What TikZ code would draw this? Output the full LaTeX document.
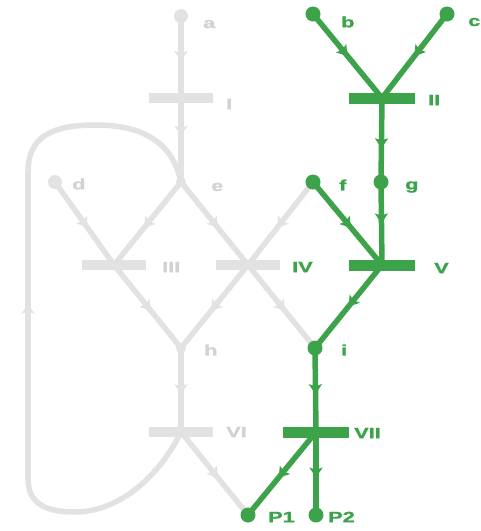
\documentclass[tikz,border=0pt]{standalone}
\usepackage{fontspec}
\setmainfont{Liberation Sans}
\newfontfamily\heavyfont{Liberation Sans}[BoldFeatures={FakeBold=1.3}]
\usepackage{graphicx}
\usetikzlibrary{decorations.markings,arrows.meta}
\pgfdeclarelayer{bg}
\pgfsetlayers{bg,main}
\definecolor{pgreen}{RGB}{61,163,75}
\definecolor{pgray}{RGB}{226,226,226}
\definecolor{lgray}{RGB}{210,210,210}
\newcommand\widetxt[1]{\scalebox{1.45}[1]{#1}}
\tikzset{
  midarrow/.style={postaction={decorate},decoration={markings,mark=at position #1 with {\arrow{Stealth[length=10pt,width=13pt,inset=2pt]}}}},
  midarrow/.default=0.55,
  garc/.style={draw=pgray, line width=5.5pt, line cap=round},
  arc/.style={draw=pgreen, line width=5.5pt, line cap=round},
  gplace/.style={circle, fill=pgray, inner sep=0pt, minimum size=14pt},
  gjoin/.style={circle, fill=pgray, inner sep=0pt, minimum size=10pt},
  place/.style={circle, fill=pgreen, inner sep=0pt, minimum size=15pt},
  gtrans/.style={rectangle, fill=pgray, inner sep=0pt, minimum width=64pt, minimum height=10pt},
  trans/.style={rectangle, fill=pgreen, inner sep=0pt, minimum width=66pt, minimum height=11pt},
  lab/.style={anchor=west, font=\heavyfont\bfseries\fontsize{15}{15}\selectfont, inner sep=0pt},
  glab/.style={lab, text=lgray},
  plab/.style={lab, text=pgreen},
}
\begin{document}
\begin{tikzpicture}[x=1pt,y=-1pt]
\useasboundingbox (0,0) rectangle (481,531);
% gray net
\node[gplace] (a) at (181,16) {};
\node[gtrans] (I) at (181,98) {};
\node[gjoin] (e) at (181,182) {};
\node[gplace] (d) at (55,182) {};
\node[gtrans] (III) at (114,265) {};
\node[gtrans] (IV) at (248,265) {};
\node[gjoin] (h) at (181,348) {};
\node[gtrans] (VI) at (181,432) {};
% green net
\node[place] (b) at (313,14) {};
\node[place] (c) at (447,14) {};
\node[trans] (II) at (382,98) {};
\node[place] (f) at (313,182) {};
\node[place] (g) at (381,182) {};
\node[trans] (V) at (382,265) {};
\node[place] (i) at (315,348) {};
\node[trans] (VII) at (316,432) {};
\node[place] (P1) at (248,515) {};
\node[place] (P2) at (316,515) {};
% loop corners
\coordinate (lb) at (28,478);
\coordinate (lt) at (28,172);
\begin{pgfonlayer}{bg}
\draw[garc, midarrow] (a.center) -- (I.center);
\draw[garc, midarrow=0.45] (I.center) -- (e.center);
\draw[garc, midarrow] (e.center) -- (III.center);
\draw[garc, midarrow] (d.center) -- (III.center);
\draw[garc, midarrow] (e.center) -- (IV.center);
\draw[garc, midarrow] (f.center) -- (IV.center);
\draw[garc, midarrow] (III.center) -- (h.center);
\draw[garc, midarrow] (IV.center) -- (h.center);
\draw[garc, midarrow] (IV.center) -- (i.center);
\draw[garc, midarrow] (h.center) -- (VI.center);
\draw[garc, midarrow] (VI.center) -- (P1.center);
\draw[garc] (VI.center) .. controls (160,475) and (120,512) .. (75,512) .. controls (40,512) and (28,500) .. (lb);
\draw[garc, midarrow=0.57] (lb) -- (lt);
\draw[garc] (lt) .. controls (28,138) and (50,125) .. (95,125) .. controls (140,125) and (172,140) .. (e.center);
\end{pgfonlayer}
\draw[arc, midarrow=0.5] (b.center) -- (II.center);
\draw[arc, midarrow=0.5] (c.center) -- (II.center);
\draw[arc, midarrow=0.6] (II.center) -- (g.center);
\draw[arc, midarrow=0.5] (g.center) -- (V.center);
\draw[arc, midarrow=0.55] (f.center) -- (V.center);
\draw[arc, midarrow=0.5] (V.center) -- (i.center);
\draw[arc, midarrow=0.55] (i.center) -- (VII.center);
\draw[arc, midarrow=0.55] (VII.center) -- (P1.center);
\draw[arc, midarrow=0.55] (VII.center) -- (P2.center);
% labels
\node[glab] (la) at (203,24) {\widetxt{a}};
\node[glab] (lI) at (226,104) {\widetxt{I}};
\node[glab] (le) at (211,187) {\widetxt{e}};
\node[glab] (ld) at (72,184) {\widetxt{d}};
\node[glab] (lIII) at (162,267) {\widetxt{III}};
\node[plab] (lIV) at (292,267) {\widetxt{IV}};
\node[glab] (lh) at (204,350) {\widetxt{h}};
\node[glab] (lVI) at (226,432) {\widetxt{VI}};
\node[plab] (lb2) at (341,22) {\widetxt{b}};
\node[plab] (lc) at (468,22) {\widetxt{c}};
\node[plab] (lII) at (428,100) {\widetxt{II}};
\node[plab] (lf) at (339,185) {\widetxt{f}};
\node[plab] (lg) at (405,187) {\widetxt{g}};
\node[plab] (lV) at (434,268) {\widetxt{V}};
\node[plab] (li) at (341,350) {\widetxt{i}};
\node[plab] (lVII) at (354,433) {\widetxt{VII}};
\node[plab] (lP1) at (268,517) {\widetxt{P1}};
\node[plab] (lP2) at (328,517) {\widetxt{P2}};
\end{tikzpicture}
\end{document}
